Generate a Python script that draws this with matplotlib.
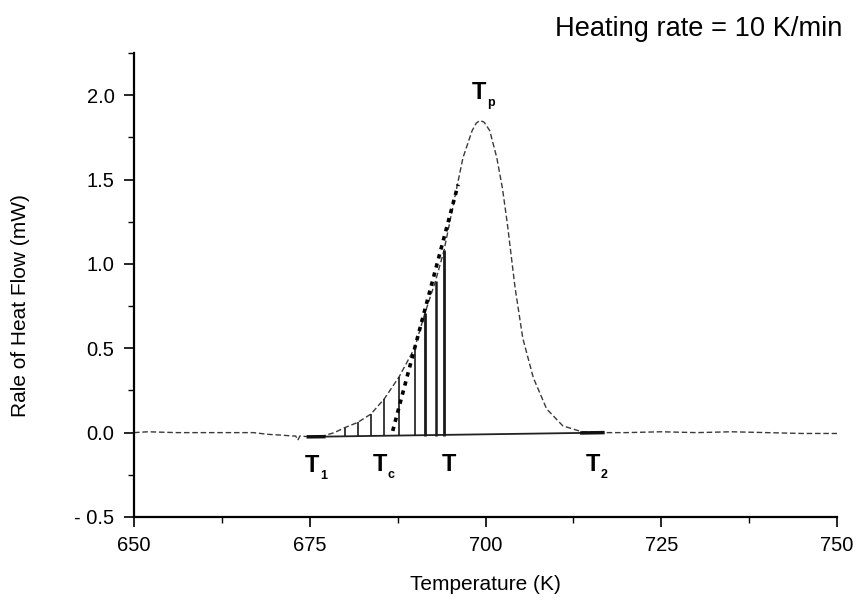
import numpy as np
import matplotlib
matplotlib.use("Agg")
import matplotlib.pyplot as plt
from matplotlib.ticker import MultipleLocator

plt.rcParams['font.family'] = ['Liberation Sans', 'DejaVu Sans']

# DSC trace (temperature in K, heat flow in mW)
temp = [650, 652, 656, 660, 664, 667, 669, 671, 672.5, 673.0, 673.3, 673.6,
        675, 676.9, 678.5, 680.0, 681.8, 683.7, 685.6, 687.7, 689.9, 691.4,
        692.9, 694.1, 695.9, 696.8, 698.1, 698.7, 699.2, 699.8, 700.6, 701.6,
        702.4, 703.1, 704.2, 705.3, 706.8, 708.7, 711.0, 713.7, 716.7, 720, 725,
        730, 735, 740, 745, 750]
flow = [0.0, 0.005, 0.0, 0.0, 0.0, 0.0, -0.01, -0.015, -0.02, -0.02, -0.045, -0.02,
        -0.025, -0.02, 0.0, 0.03, 0.06, 0.11, 0.20, 0.33, 0.50, 0.71,
        0.90, 1.08, 1.45, 1.63, 1.79, 1.835, 1.85, 1.84, 1.79, 1.63,
        1.45, 1.24, 0.86, 0.56, 0.325, 0.14, 0.04, 0.005, 0.0, 0.0, 0.005,
        0.0, 0.005, 0.0, -0.005, -0.005]

# interpolated baseline under the peak
base_T = [674.8, 716.7]
base_Q = [-0.025, 0.0]

# vertical strips under the rising edge
hatch_T = [680.0, 681.8, 683.7, 685.6, 687.7, 689.9, 691.4, 692.9, 694.1]
hatch_top = [0.03, 0.06, 0.11, 0.20, 0.33, 0.50, 0.71, 0.90, 1.08]
hatch_base = -0.02

# tangent (dotted) on the leading edge
tan_T = [686.8, 696.1]
tan_Q = [0.01, 1.47]

fig = plt.figure(figsize=(8.6, 6.07), dpi=100)
ax = fig.add_axes([0.1558, 0.1483, 0.8175, 0.7644])

ax.plot(temp, flow, color='#3a3a3a', lw=1.0, linestyle=(0, (4, 2)))
ax.plot(base_T, base_Q, color='#222222', lw=1.3)
ax.plot([713.7, 716.7], [-0.002, 0.0], color='#111111', lw=2.5)
ax.plot([674.8, 677.0], [-0.025, -0.024], color='#111111', lw=2.5)

hatch_lw = [1.2, 1.2, 1.2, 1.2, 1.2, 1.2, 2.0, 1.8, 2.0]
ax.vlines(hatch_T, hatch_base, hatch_top, colors='#1a1a1a', linewidths=hatch_lw)

ax.plot(tan_T, tan_Q, color='black', lw=2.6, linestyle=(0, (1.2, 1.4)))


def tlabel(x, y, sub):
    ax.text(x, y, 'T', fontsize=17, fontweight='bold', ha='left', va='baseline')
    if sub:
        ax.annotate(sub, (x, y), xytext=(11, -5), textcoords='offset points',
                    fontsize=9, fontweight='bold', ha='left', va='baseline')


tlabel(674.3, -0.231, '1')
tlabel(683.9, -0.225, 'c')
tlabel(693.8, -0.225, '')
tlabel(714.2, -0.225, '2')
tlabel(698.1, 1.976, 'p')

ax.set_xlim(650, 750)
ax.set_ylim(-0.5, 2.25)
ax.xaxis.set_major_locator(MultipleLocator(25))
ax.xaxis.set_minor_locator(MultipleLocator(12.5))
ax.yaxis.set_major_locator(MultipleLocator(0.5))
ax.yaxis.set_minor_locator(MultipleLocator(0.25))
ax.set_yticks([-0.5, 0.0, 0.5, 1.0, 1.5, 2.0])
ax.set_yticklabels(['- 0.5', '0.0', '0.5', '1.0', '1.5', '2.0'])

for s in ['top', 'right']:
    ax.spines[s].set_visible(False)
for s in ['left', 'bottom']:
    ax.spines[s].set_linewidth(1.6)

ax.tick_params(axis='both', which='major', length=7, width=1.2, labelsize=14.5, pad=7)
ax.tick_params(axis='both', which='minor', length=4, width=1.0)

ax.set_xlabel('Temperature (K)', fontsize=15, labelpad=14)
ax.set_ylabel('Rale of Heat Flow (mW)', fontsize=15)
ax.yaxis.set_label_coords(-0.148, 0.455)

fig.text(0.980, 0.941, 'Heating rate = 10 K/min', fontsize=19.6,
         ha='right', va='baseline')

fig.savefig('out.png', dpi=100)
